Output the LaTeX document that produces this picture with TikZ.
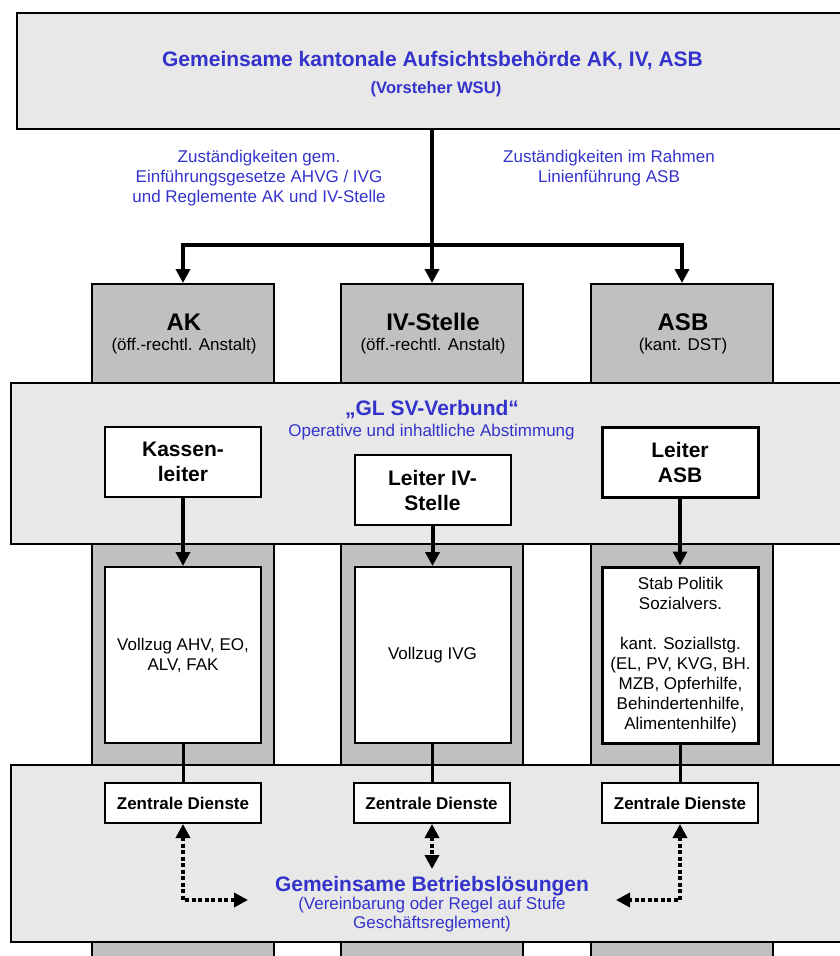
\documentclass[tikz,border=0pt]{standalone}
\usepackage{fontspec}
\setmainfont{Liberation Sans}
\usetikzlibrary{arrows.meta}
\definecolor{svblue}{RGB}{51,51,204}
\definecolor{bandgray}{RGB}{232,232,232}
\definecolor{colgray}{RGB}{192,192,192}

\begin{document}
\begin{tikzpicture}[x=1pt,y=-1pt,line width=2pt,>={Triangle[length=14pt,width=14pt]},
  every node/.style={inner sep=0pt},
  colbox/.style={draw,fill=colgray,minimum width=182pt,minimum height=700pt,anchor=north},
  band/.style={draw,fill=bandgray,minimum width=849pt},
  wbox/.style={draw,fill=white,minimum width=156pt,align=center},
  leiter/.style={wbox,minimum height=70pt,font=\fontsize{21}{25}\selectfont\bfseries},
  vollzug/.style={wbox,minimum height=176pt,font=\fontsize{17}{20}\selectfont},
  dienst/.style={wbox,minimum height=40pt,font=\fontsize{17}{20}\selectfont\bfseries},
  bluetext/.style={text=svblue,align=center,font=\fontsize{17}{20}\selectfont},
  bluebig/.style={text=svblue,anchor=base,font=\fontsize{21}{25}\selectfont\bfseries},
  colhead/.style={anchor=base,font=\fontsize{24}{28}\selectfont\bfseries},
  colsub/.style={anchor=base,font=\fontsize{17}{20}\selectfont},
  mainline/.style={line width=4pt},
  leitpfeil/.style={line width=4pt,->},
  dienstline/.style={line width=3pt},
  dotlink/.style={<->,line width=4pt,dash pattern=on 4pt off 2.5pt}]
  \clip (0,0) rectangle (840,956);

  \node[colbox] (ak) at (183,283) {};
  \node[colbox] (iv) at (432,283) {};
  \node[colbox] (asb) at (682,283) {};

  \node[draw,fill=bandgray,line width=2.5pt,minimum width=843pt,minimum height=116pt] (aufsicht) at (438.5,71) {};
  \node[bluebig] (titel) at (432.5,66) {Gemeinsame kantonale Aufsichtsbehörde AK, IV, ASB};
  \node[bluebig,font=\fontsize{16.6}{20}\selectfont\bfseries] (vorsteher) at (436,93.5) {(Vorsteher WSU)};

  \node[bluetext] (zustlinks) at (259,178) {Zuständigkeiten gem.\\Einführungsgesetze AHVG / IVG\\und Reglemente AK und IV-Stelle};
  \node[bluetext] (zustrechts) at (609,168) {Zuständigkeiten im Rahmen\\Linienführung ASB};

  \coordinate (bus) at (432,245);
  \draw[mainline] (aufsicht.south -| iv.north) -- (bus);
  \draw[mainline,->] (bus) -- (iv.north);
  \draw[mainline,->] (bus) -| (ak.north);
  \draw[mainline,->] (bus) -| (asb.north);

  \node[colhead] (akname) at (184,330) {AK};
  \node[colsub] (aksub) at (184,350.5) {(öff.-rechtl. Anstalt)};
  \node[colhead] (ivname) at (433,330) {IV-Stelle};
  \node[colsub] (ivsub) at (433,350.5) {(öff.-rechtl. Anstalt)};
  \node[colhead] (asbname) at (683,330) {ASB};
  \node[colsub] (asbsub) at (683,350.5) {(kant. DST)};

  \node[band,minimum height=161pt] (gl) at (435.5,463.5) {};
  \node[bluebig] (gltitel) at (432,415) {„GL SV-Verbund“};
  \node[bluetext,anchor=base] (glsub) at (431.5,436) {Operative und inhaltliche Abstimmung};

  \node[leiter] (kl) at (183,461.5) {Kassen-\\leiter};
  \node[leiter] (liv) at (432.5,490) {Leiter IV-\\Stelle};
  \node[leiter,line width=3pt] (lasb) at (680,462.5) {Leiter\\ASB};

  \node[vollzug] (vak) at (183,655) {Vollzug AHV, EO,\\ALV, FAK};
  \node[vollzug] (viv) at (432.5,655) {Vollzug IVG};
  \node[vollzug,line width=3pt] (vasb) at (680.5,655) {Stab Politik\\Sozialvers.\\[20pt]kant. Soziallstg.\\(EL, PV, KVG, BH.\\MZB, Opferhilfe,\\Behindertenhilfe,\\Alimentenhilfe)};

  \draw[leitpfeil] (kl.south) -- (vak.north);
  \draw[leitpfeil] (liv.south) -- (viv.north);
  \draw[leitpfeil] (lasb.south) -- (lasb.south |- vasb.north);

  \node[band,minimum height=177pt] (betriebband) at (435.5,853.5) {};
  \node[dienst] (zdak) at (183,803) {Zentrale Dienste};
  \node[dienst] (zdiv) at (431.5,803) {Zentrale Dienste};
  \node[dienst] (zdasb) at (680,803) {Zentrale Dienste};
  \draw[dienstline] (vak.south) -- (zdak.north);
  \draw[dienstline] (viv.south) -- (viv.south |- zdiv.north);
  \draw[dienstline] (vasb.south) -- (vasb.south |- zdasb.north);

  \node[bluebig] (betrieb) at (432,891) {Gemeinsame Betriebslösungen};
  \node[bluetext,text=svblue,font=\fontsize{17}{19}\selectfont] (betriebsub) at (432,915) {(Vereinbarung oder Regel auf Stufe\\Geschäftsreglement)};

  \coordinate (gbl) at (248,900);
  \coordinate (gbm) at (432,869);
  \coordinate (gbr) at (616,900);
  \draw[dotlink] (zdak.south) |- (gbl);
  \draw[dotlink] (zdiv.south -| gbm) -- (gbm);
  \draw[dotlink] (zdasb.south) |- (gbr);
\end{tikzpicture}
\end{document}
